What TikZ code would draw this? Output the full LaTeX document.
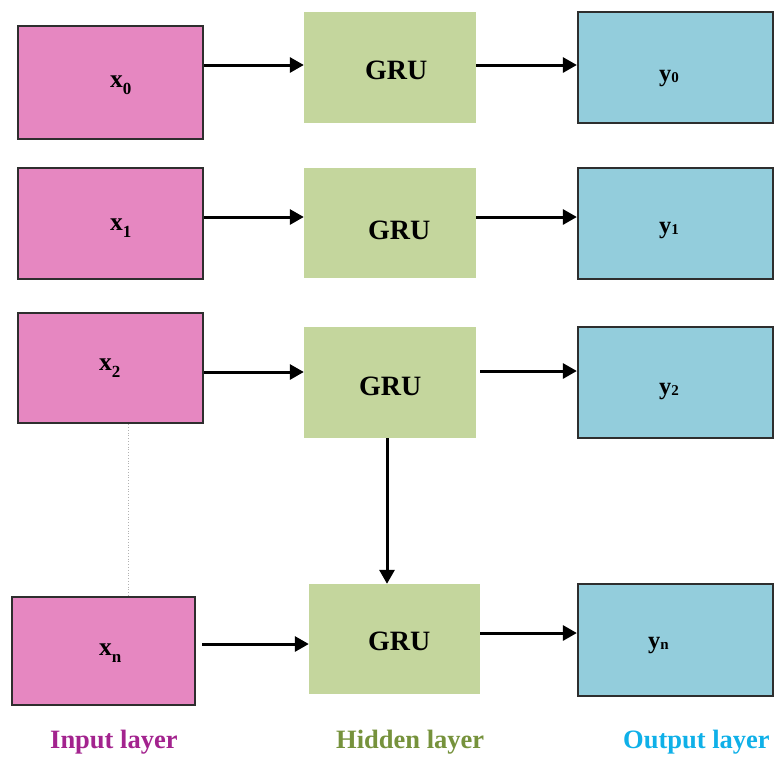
\documentclass[tikz,border=0pt]{standalone}
\usepackage{fontspec}
\setmainfont{Liberation Serif}
\usetikzlibrary{arrows.meta}
\definecolor{pinkfill}{HTML}{E687C1}
\definecolor{greenfill}{HTML}{C4D69D}
\definecolor{bluefill}{HTML}{93CDDC}
\definecolor{boxline}{HTML}{2E2E2E}
\definecolor{incol}{HTML}{A3238E}
\definecolor{hidcol}{HTML}{76923C}
\definecolor{outcol}{HTML}{0FB0E8}
\newcommand{\xlab}[1]{\fontsize{25.5}{28}\selectfont x\raisebox{-0.28em}{\fontsize{17}{17}\selectfont #1}}
\newcommand{\ylab}[1]{\fontsize{24.5}{26}\selectfont y\raisebox{-0.05em}{\fontsize{15}{15}\selectfont #1}}
\begin{document}
\begin{tikzpicture}[x=1pt,y=-1pt,
  inbox/.style={draw=boxline, line width=2.3pt, fill=pinkfill, inner sep=0pt},
  hidbox/.style={fill=greenfill, inner sep=0pt},
  outbox/.style={draw=boxline, line width=2.3pt, fill=bluefill, inner sep=0pt},
  lbl/.style={anchor=base west, inner sep=0pt, font=\bfseries},
  gru/.style={anchor=base west, inner sep=0pt, font=\bfseries\fontsize{28}{32}\selectfont},
  layer/.style={anchor=base west, inner sep=0pt, font=\bfseries\fontsize{26.5}{30}\selectfont},
  arr/.style={line width=3pt, -{Triangle[length=14pt,width=15pt]}}]
\useasboundingbox (0,0) rectangle (775,756);
% input boxes
\node[inbox, minimum width=185pt, minimum height=113pt] (X0) at (110.5,82.5) {};
\node[inbox, minimum width=185pt, minimum height=111pt] (X1) at (110.5,223.5) {};
\node[inbox, minimum width=185pt, minimum height=110pt] (X2) at (110.5,368) {};
\node[inbox, minimum width=183pt, minimum height=108pt] (Xn) at (103.5,651) {};
% hidden boxes
\node[hidbox, minimum width=172pt, minimum height=111pt] (G0) at (390,67.5) {};
\node[hidbox, minimum width=172pt, minimum height=110pt] (G1) at (390,223) {};
\node[hidbox, minimum width=172pt, minimum height=111pt] (G2) at (390,382.5) {};
\node[hidbox, minimum width=171pt, minimum height=110pt] (Gn) at (394.5,639) {};
% output boxes
\node[outbox, minimum width=195pt, minimum height=111pt] (Y0) at (675.5,67.5) {};
\node[outbox, minimum width=195pt, minimum height=111pt] (Y1) at (675.5,223.5) {};
\node[outbox, minimum width=195pt, minimum height=111pt] (Y2) at (675.5,382.5) {};
\node[outbox, minimum width=195pt, minimum height=112pt] (Yn) at (675.5,640) {};
% texts
\node[lbl] (tx0) at (110,87) {\xlab{0}};
\node[lbl] (tx1) at (110,230) {\xlab{1}};
\node[lbl] (tx2) at (99,370) {\xlab{2}};
\node[lbl] (txn) at (99,655) {\xlab{n}};
\node[gru] (tg0) at (365,79) {GRU};
\node[gru] (tg1) at (368,239) {GRU};
\node[gru] (tg2) at (359,395) {GRU};
\node[gru] (tgn) at (368,650) {GRU};
\node[lbl] (ty0) at (659,81) {\ylab{0}};
\node[lbl] (ty1) at (659,233) {\ylab{1}};
\node[lbl] (ty2) at (659,394) {\ylab{2}};
\node[lbl] (tyn) at (648,648) {\ylab{n}};
\node[layer, text=incol] (lin) at (50,748) {Input layer};
\node[layer, text=hidcol] (lhid) at (336,748) {Hidden layer};
\node[layer, text=outcol] (lout) at (623,748) {Output layer};
% connectors
\draw[arr] (X0.east |- 0,65) -- (G0.west |- 0,65);
\draw[arr] (X1.east |- 0,217) -- (G1.west |- 0,217);
\draw[arr] (X2.east |- 0,372) -- (G2.west |- 0,372);
\draw[arr] ([xshift=6pt]Xn.east |- 0,644) -- (Gn.west |- 0,644);
\draw[arr] (G0.east |- 0,65) -- (Y0.west |- 0,65);
\draw[arr] (G1.east |- 0,217) -- (Y1.west |- 0,217);
\draw[arr] ([xshift=4pt]G2.east |- 0,371) -- (Y2.west |- 0,371);
\draw[arr] (Gn.east |- 0,633) -- (Yn.west |- 0,633);
\draw[arr] (G2.south -| 387,0) -- (Gn.north -| 387,0);
\draw[gray!60, line width=0.8pt, dotted] (X2.south -| 128,0) -- (Xn.north -| 128,0);
\end{tikzpicture}
\end{document}
